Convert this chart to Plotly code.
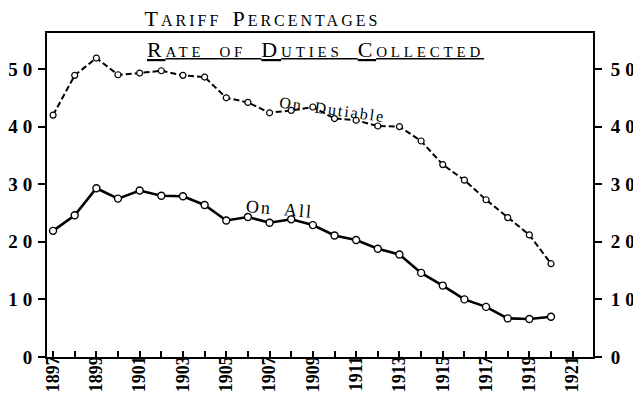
import plotly.graph_objects as go

years = list(range(1897, 1921))
on_dutiable = [42.0, 48.9, 51.9, 49.0, 49.3, 49.7, 48.9, 48.6, 45.0, 44.2, 42.4, 42.8,
               43.4, 41.4, 41.1, 40.1, 40.0, 37.5, 33.4, 30.7, 27.3, 24.2, 21.2, 16.2]
on_all = [21.9, 24.6, 29.3, 27.5, 28.9, 28.0, 27.9, 26.4, 23.7, 24.3, 23.3, 23.9,
          22.9, 21.1, 20.3, 18.8, 17.8, 14.6, 12.4, 10.0, 8.7, 6.7, 6.6, 7.0]

tick_years = list(range(1897, 1922))
tick_labels = [str(y) if (y - 1897) % 2 == 0 else "" for y in tick_years]
y_ticks = [0, 10, 20, 30, 40, 50]
y_labels = ["0", "10", "20", "30", "40", "50"]

SERIF = "Liberation Serif, DejaVu Serif, serif"
# the page body has an 8px margin, so size the figure to fill the 641x401 window
W, H = 633, 393

fig = go.Figure()
fig.add_trace(go.Scatter(
    x=years, y=on_dutiable, mode="lines+markers", name="On Dutiable",
    line=dict(color="black", width=2, dash="6px,3px"),
    marker=dict(symbol="circle", size=6, color="white", line=dict(color="black", width=1.2)),
    showlegend=False, cliponaxis=False))
fig.add_trace(go.Scatter(
    x=years, y=on_all, mode="lines+markers", name="On All",
    line=dict(color="black", width=2.6),
    marker=dict(symbol="circle", size=7, color="white", line=dict(color="black", width=1.4)),
    showlegend=False, cliponaxis=False))
fig.add_trace(go.Scatter(x=[None], y=[None], yaxis="y2", showlegend=False, hoverinfo="skip"))

small = "font-size:16px;letter-spacing:3px"
big = "letter-spacing:3px"
title_txt = (f"<span style='{big}'>T</span><span style='{small}'>ARIFF</span>  "
             f"<span style='{big}'>P</span><span style='{small}'>ERCENTAGES</span>")
sub_small = "font-size:15px;letter-spacing:3.8px"
sub_big = "letter-spacing:3.8px"
sub_txt = (f"<u><span style='{sub_big}'>R</span><span style='{sub_small}'>ATE  OF  </span>"
           f"<span style='{sub_big}'>D</span><span style='{sub_small}'>UTIES  </span>"
           f"<span style='{sub_big}'>C</span><span style='{sub_small}'>OLLECTED</span></u>")

def ylab(t):
    return f"<b><span style='letter-spacing:5px'>{t}</span></b>"

fig.update_layout(
    width=W, height=H, autosize=False,
    margin=dict(l=39, r=48, t=25, b=44, autoexpand=False),
    paper_bgcolor="white", plot_bgcolor="white",
    title=dict(text=title_txt, x=254.5 / W, xref="container", xanchor="center",
               y=1 - 10 / H, yref="container", yanchor="middle", automargin=False,
               font=dict(family=SERIF, size=22, color="black")),
    xaxis=dict(range=[1896.72, 1921.94], showline=True, linewidth=2, linecolor="black",
               mirror=True, ticks="inside", ticklen=6, tickwidth=2, tickcolor="black",
               tickvals=tick_years, ticktext=[f"<b>{t}</b>" if t else "" for t in tick_labels],
               tickangle=-90, ticklabelstandoff=-10, automargin=False,
               tickfont=dict(family=SERIF, size=18, color="black"),
               showgrid=False, zeroline=False),
    yaxis=dict(range=[0, 56.25], showline=True, linewidth=2, linecolor="black",
               ticks="outside", ticklen=7, tickwidth=2, tickcolor="black",
               tickvals=y_ticks, ticktext=[ylab(t) for t in y_labels],
               ticklabelstandoff=-3, automargin=False,
               tickfont=dict(family=SERIF, size=19, color="black"),
               showgrid=False, zeroline=False),
    yaxis2=dict(range=[0, 56.25], overlaying="y", side="right", showline=True,
                linewidth=2, linecolor="black", ticks="outside", ticklen=7, tickwidth=2,
                tickcolor="black", tickvals=y_ticks, ticklabelstandoff=5, automargin=False,
                ticktext=[ylab(t) for t in y_labels],
                tickfont=dict(family=SERIF, size=19, color="black"),
                showgrid=False, zeroline=False),
    annotations=[
        dict(text=sub_txt, xref="paper", yref="paper", x=(315 - 47) / 546, y=(357 - 49) / 324,
             showarrow=False, xanchor="center", yanchor="middle",
             font=dict(family=SERIF, size=22, color="black")),
        dict(text="<span style='letter-spacing:2px'>On  Dutiable</span>", x=1909.93, y=42.9,
             showarrow=False, textangle=8, xanchor="center", yanchor="middle",
             font=dict(family=SERIF, size=16, color="black")),
        dict(text="<span style='letter-spacing:2px'>On  All</span>", x=1907.48, y=25.7,
             showarrow=False, textangle=5, xanchor="center", yanchor="middle",
             font=dict(family=SERIF, size=18, color="black")),
    ],
)

fig.write_html("out.html")
